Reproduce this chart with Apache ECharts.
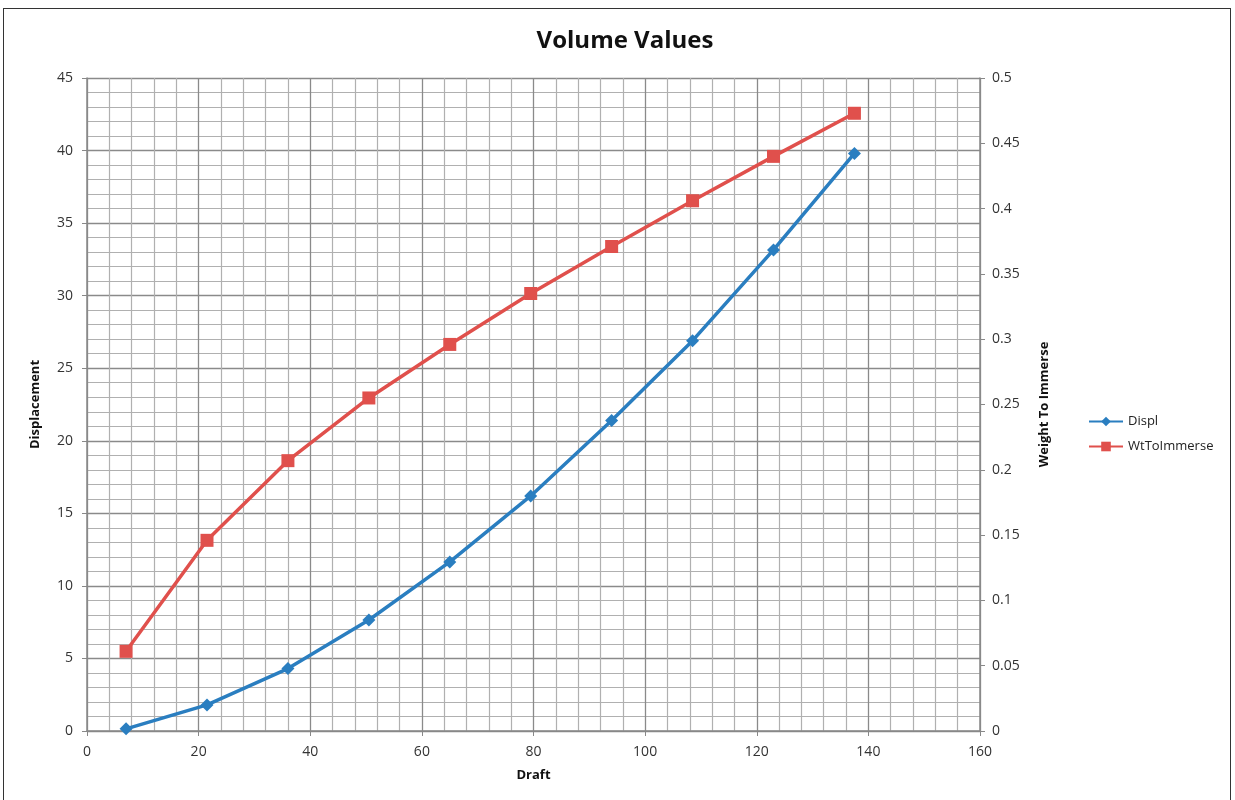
<!DOCTYPE html>
<html>
<head>
    <meta charset="UTF-8">
    <title>Volume Values</title>
    <script src="https://cdn.jsdelivr.net/npm/echarts@6/dist/echarts.min.js"></script>
    <style>
        html, body { margin: 0; padding: 0; background: #fff; }
        #frame {
            position: absolute; left: 3px; top: 8px; width: 1228px; height: 800px;
            border: 1px solid #333; box-sizing: border-box;
        }
        #chart { position: absolute; left: 0; top: 0; width: 1235px; height: 800px; }
    </style>
</head>
<body>
    <div id="frame"></div>
    <div id="chart"></div>

    <script>
        // draft positions (x)
        const draft = [7, 21.5, 36, 50.5, 65, 79.5, 94, 108.5, 123, 137.5];
        const displ = [0.15, 1.8, 4.3, 7.65, 11.65, 16.2, 21.4, 26.9, 33.15, 39.8];
        const wtToImmerse = [0.061, 0.146, 0.207, 0.255, 0.296, 0.335, 0.371, 0.406, 0.44, 0.473];

        const font = '"Open Sans", "Liberation Sans", sans-serif';
        const chart = echarts.init(document.getElementById('chart'));

        const pairs = (xs, ys) => xs.map((x, i) => [x, ys[i]]);

        const option = {
            animation: false,
            title: {
                text: 'Volume Values',
                left: 620, top: 24, textAlign: 'center',
                textStyle: { fontFamily: font, fontSize: 24, fontWeight: 'bold', color: '#111' }
            },
            legend: {
                orient: 'vertical',
                left: 1083, top: 410,
                itemGap: 12,
                itemWidth: 34, itemHeight: 12,
                textStyle: { fontFamily: font, fontSize: 13, color: '#222' },
                data: ['Displ', 'WtToImmerse']
            },
            grid: { left: 87, right: 255, top: 78, bottom: 69 },
            xAxis: {
                type: 'value', min: 0, max: 160, interval: 20,
                name: 'Draft', nameLocation: 'middle', nameGap: 38,
                nameTextStyle: { fontFamily: font, fontSize: 13, fontWeight: 'bold', color: '#111' },
                axisLine: { lineStyle: { color: '#888', width: 1.5 } },
                axisTick: { show: true, length: 5, lineStyle: { color: '#888' } },
                axisLabel: { fontFamily: font, fontSize: 14, color: '#333', margin: 14 },
                splitLine: { show: true, lineStyle: { color: '#8a8a8a', width: 1.3 } },
                minorTick: { show: false, splitNumber: 5 },
                minorSplitLine: { show: true, lineStyle: { color: '#b0b0b0', width: 1.2 } }
            },
            yAxis: [{
                type: 'value', min: 0, max: 45, interval: 5,
                name: 'Displacement', nameLocation: 'middle', nameGap: 45, nameRotate: 90,
                nameTextStyle: { fontFamily: font, fontSize: 13, fontWeight: 'bold', color: '#111' },
                axisLine: { show: true, lineStyle: { color: '#888', width: 1.5 } },
                axisTick: { show: true, length: 5, lineStyle: { color: '#888' } },
                axisLabel: { fontFamily: font, fontSize: 14, color: '#333', margin: 14 },
                splitLine: { show: true, lineStyle: { color: '#8a8a8a', width: 1.3 } },
                minorTick: { show: false, splitNumber: 5 },
                minorSplitLine: { show: true, lineStyle: { color: '#b0b0b0', width: 1.2 } }
            }, {
                type: 'value', min: 0, max: 0.5, interval: 0.05,
                name: 'Weight To Immerse', nameLocation: 'middle', nameGap: 58, nameRotate: 90,
                nameTextStyle: { fontFamily: font, fontSize: 13, fontWeight: 'bold', color: '#111' },
                axisLine: { show: true, lineStyle: { color: '#888', width: 1.5 } },
                axisTick: { show: true, length: 5, lineStyle: { color: '#888' } },
                axisLabel: { fontFamily: font, fontSize: 14, color: '#333', margin: 12 },
                splitLine: { show: false }
            }],
            series: [{
                name: 'Displ',
                type: 'line',
                yAxisIndex: 0,
                data: pairs(draft, displ),
                symbol: 'diamond', symbolSize: 13,
                lineStyle: { color: '#2a7ec0', width: 3.5 },
                itemStyle: { color: '#2a7ec0' }
            }, {
                name: 'WtToImmerse',
                type: 'line',
                yAxisIndex: 1,
                data: pairs(draft, wtToImmerse),
                symbol: 'rect', symbolSize: 13,
                lineStyle: { color: '#e0504c', width: 3.5 },
                itemStyle: { color: '#e0504c' }
            }]
        };

        chart.setOption(option);
    </script>
</body>
</html>
